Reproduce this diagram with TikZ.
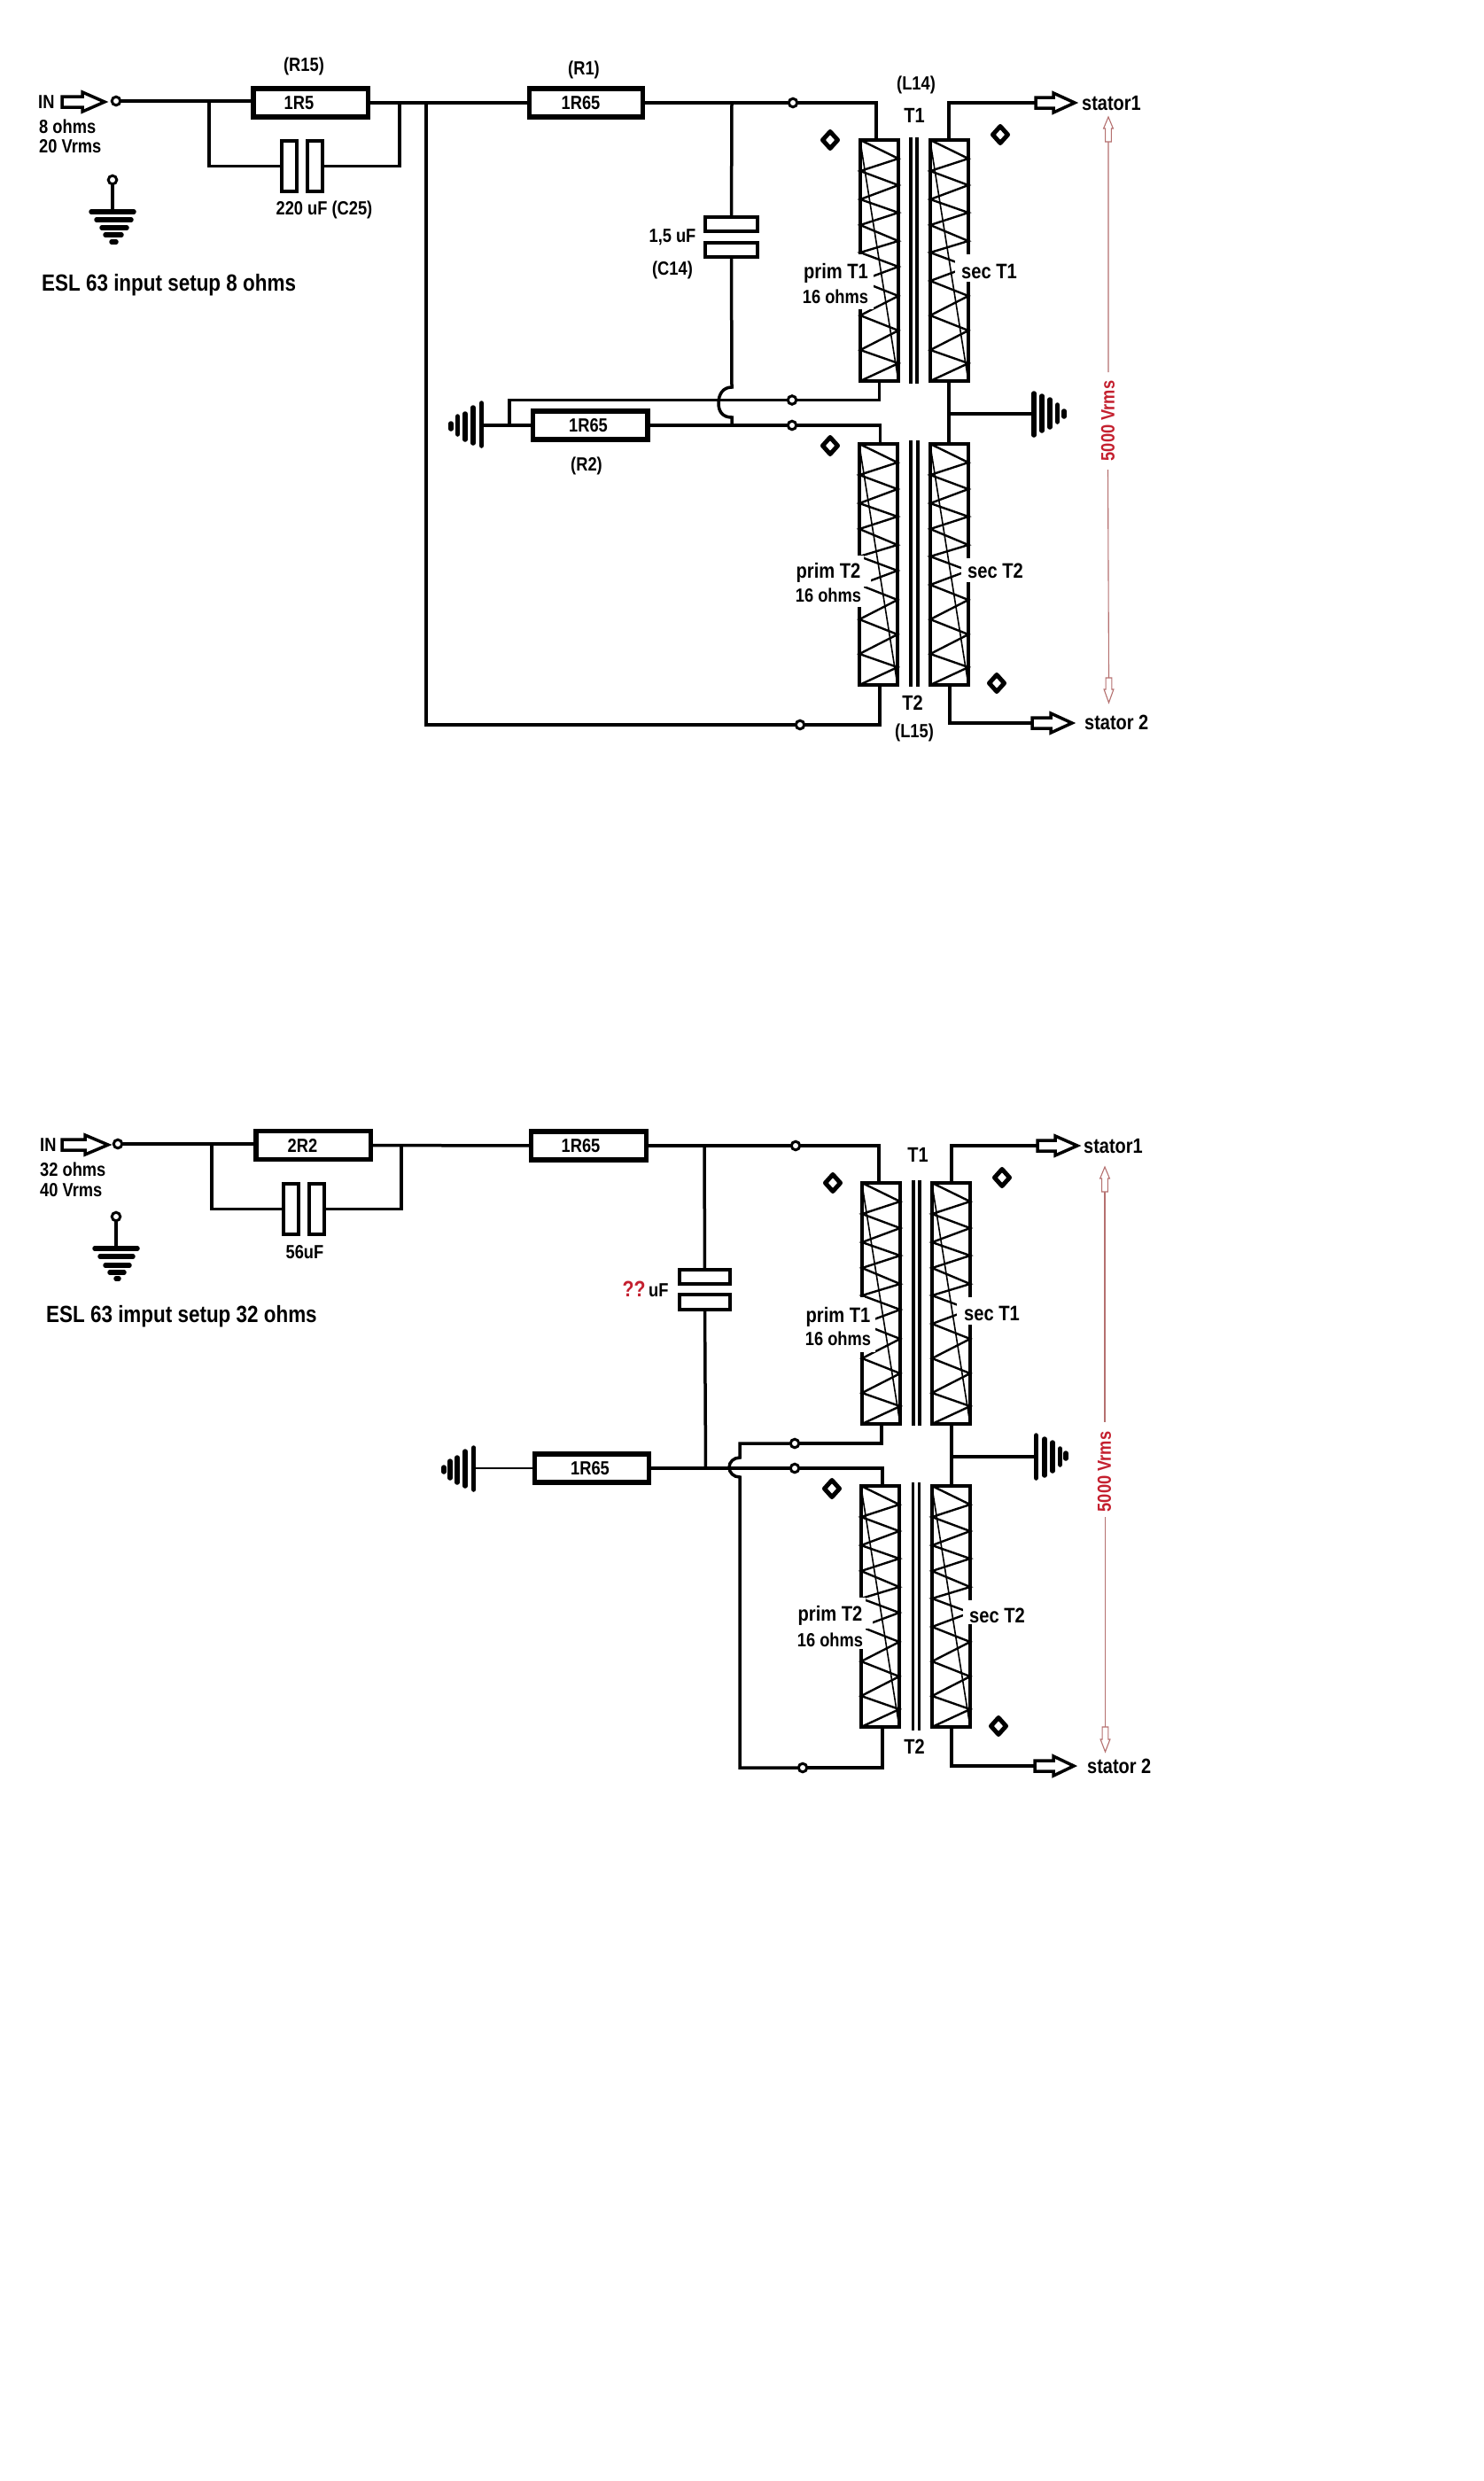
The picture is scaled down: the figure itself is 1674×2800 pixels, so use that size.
\documentclass[tikz,border=0pt]{standalone}
\usepackage{fontspec}
\setmainfont{Liberation Sans}[FakeStretch=0.85]
\definecolor{redline}{HTML}{B5706F}
\definecolor{redtext}{HTML}{C4202F}
\newcommand{\lblf}{\bfseries\fontsize{21.5}{24}\selectfont}
\newcommand{\windf}{\bfseries\fontsize{23.7}{26}\selectfont}
\newcommand{\bigf}{\bfseries\fontsize{23.5}{26}\selectfont}
\newcommand{\ttlf}{\bfseries\fontsize{26.4}{29}\selectfont}
\tikzset{
  wire/.style={line width=3.5pt,line cap=round,line join=miter},
  thinwire/.style={line width=2.6pt,line cap=round},
  term/.style={circle,draw,line width=3pt,inner sep=0pt,minimum size=9.5pt,fill=white},
  resbox/.style={rectangle,draw,line width=5.5pt,inner sep=0pt,minimum height=32pt,fill=white,font=\lblf},
  platebox/.style={rectangle,draw,line width=4pt,inner sep=0pt,fill=white},
  lbl/.style={font=\lblf,inner sep=0pt},
  windlbl/.style={font=\windf,inner sep=0pt},
  biglbl/.style={font=\bigf,inner sep=0pt},
  ttl/.style={font=\ttlf,inner sep=0pt},
  redlbl/.style={font=\lblf,inner sep=0pt,text=redtext},
  gbar/.style={line width=5.5pt,line cap=round},
  zig/.style={line width=2.4pt,line join=miter},
  frame/.style={line width=4pt},
  core/.style={line width=3.2pt},
  diag/.style={line width=1.6pt},
  sensedot/.style={line width=5pt,line join=round,fill=white},
  mask/.style={fill=white,draw=none},
  outarrow/.style={line width=3.5pt,fill=white,line join=miter},
  redarrow/.style={draw=redline,line width=1.1pt,fill=white}
}
% winding: zigzag, thin diagonal, frame; origin = top left corner of the frame
\newcommand{\winding}[2]{%
  \begin{scope}[shift={(#1,#2)}]
    \draw[zig] (0,0)--(43,21)--(0,35)--(43,51)--(0,67)--(43,82)--(0,96)--(43,114)--(0,127)--(43,143)--(0,159)--(43,176)--(0,198)--(43,215)--(0,237)--(43,252)--(0,272);
    \draw[diag] (0,2)--(43,272);
    \draw[frame] (0,0) rectangle (43,272);
  \end{scope}}
\newcommand{\maskptone}[2]{\fill[mask] (#1-66,#2+141) rectangle (#1+15,#2+191);\fill[mask] (#1-6,#2+129) rectangle (#1+3,#2+189);}
\newcommand{\maskstone}[2]{\fill[mask] (#1+28,#2+129) rectangle (#1+100,#2+160);}
\newcommand{\maskpttwo}[2]{\fill[mask] (#1-6,#2+126) rectangle (#1+5,#2+184);\fill[mask] (#1-75,#2+133) rectangle (#1+13,#2+161);\fill[mask] (#1-75,#2+161) rectangle (#1+5,#2+184);}
\newcommand{\masksttwo}[2]{\fill[mask] (#1+35,#2+129) rectangle (#1+100,#2+156);}
% hollow arrow: tail x, y, shoulder x, tip x
\newcommand{\hollow}[4]{\draw[outarrow] (#1,#2-6)--(#3,#2-6)--(#3,#2-11)--(#4,#2)--(#3,#2+11)--(#3,#2+6)--(#1,#2+6)--cycle;}
\newcommand{\sensemark}[2]{\draw[sensedot] (#1-8.5,#2)--(#1,#2-9.5)--(#1+8.5,#2)--(#1,#2+9.5)--cycle;}
% red arrow: x, tip y, shoulder y, tail y
\newcommand{\redhead}[4]{\draw[redarrow] (#1,#2)--(#1+5.4,#3)--(#1+3.4,#3)--(#1+3.4,#4)--(#1-3.4,#4)--(#1-3.4,#3)--(#1-5.4,#3)--cycle;}
\begin{document}
\begin{tikzpicture}[x=1pt,y=-1pt]
\useasboundingbox (0,0) rectangle (1674,2800);
\fill[white] (0,0) rectangle (1674,2800);

%% ================= upper diagram =================
\winding{971}{158}\winding{1050}{158}\winding{970}{501}\winding{1050}{501}
\maskptone{971}{158}\maskstone{1050}{158}\maskpttwo{970}{501}\masksttwo{1050}{501}
\draw[core] (1028,155)--(1028,433) (1035,155)--(1035,433);
\draw[core] (1028,497)--(1028,775) (1036,497)--(1036,775);

\node[term] (inA) at (131,114) {};
\node[term] (gtA) at (127,203) {};
\node[resbox,minimum width=129.5pt] (R15) at (350.5,116) {1R5\hspace*{26pt}};
\node[resbox,minimum width=128pt] (R1) at (661.5,116) {1R65\hspace*{12pt}};
\node[resbox,minimum width=129.5pt] (R2) at (666,480) {1R65\hspace*{4pt}};
\node[platebox,minimum width=17pt,minimum height=57pt] (C25a) at (326.5,187.5) {};
\node[platebox,minimum width=17pt,minimum height=57pt] (C25b) at (355.5,187.5) {};
\node[platebox,minimum width=59pt,minimum height=16pt] (C14a) at (825.5,253) {};
\node[platebox,minimum width=59pt,minimum height=16pt] (C14b) at (825.5,282) {};
\node[term] (tA1) at (895,116) {};
\node[term] (tA2) at (894,451.5) {};
\node[term] (tA3) at (894,480) {};
\node[term] (tA4) at (903,818) {};

\coordinate (jA1) at (236,114);
\coordinate (jA2) at (451,116);
\coordinate (jA3) at (481,116);
\coordinate (jA4) at (826,116);
\coordinate (jA5) at (575,480);
\coordinate (pA1t) at (989,158);
\coordinate (pA1b) at (992.5,430);
\coordinate (pA2t) at (993.5,501);
\coordinate (pA2b) at (993,773);
\coordinate (sA1t) at (1071,158);
\coordinate (sA1b) at (1071,430);
\coordinate (sA2t) at (1071,501);
\coordinate (sA2b) at (1072,773);
\coordinate (gA1) at (1071,467);
\coordinate (gA2) at (1167,467);
\coordinate (gA3) at (544,480);
\coordinate (aA1) at (1169,116);
\coordinate (aA2) at (1165,816);

\draw[wire] (inA.east) -- (inA.east -| R15.west);
\draw[wire] (jA1) |- (C25a.west);
\draw[wire] (C25b.east) -| (jA2);
\draw[wire] (R15) -- (R1);
\draw[wire] (jA3) |- (tA4);
\draw[wire] (tA4) -| (pA2b);
\draw[wire] (R1) -- (tA1);
\draw[wire] (tA1) -| (pA1t);
\draw[wire] (jA4) -- (C14a);
\draw[wire] (C14b.south) -- (826,437) .. controls (816,437) and (811,445) .. (811,455) .. controls (811,465) and (816,471) .. (826,471) -- (826,480);
\draw[wire] (gA3) -- (R2);
\draw[wire] (R2) -- (tA3);
\draw[wire] (tA3) -| (pA2t);
\draw[wire] (jA5) |- (tA2);
\draw[wire] (tA2) -| (pA1b);
\draw[wire] (sA1t) |- (aA1);
\draw[wire] (sA1b) -- (sA2t);
\draw[wire] (gA1) -- (gA2);
\draw[wire] (sA2b) |- (aA2);

\hollow{70}{115}{93}{118}
\hollow{1169}{116}{1189}{1213}
\hollow{1165}{816}{1186}{1210}
\sensemark{937}{158}\sensemark{1129}{152}\sensemark{937}{503}\sensemark{1125}{771}

% ground symbols
\draw[wire] (gtA) -- (127,239);
\draw[gbar] (103,239)--(151,239) (109,248)--(148,248) (115,257)--(143,257) (119,265)--(137,265) (126,273)--(131,273);
\draw[gbar] (1167,444)--(1167,491) (1176,447)--(1176,486) (1185,451)--(1185,482) (1193.5,457)--(1193.5,476) (1201,464)--(1201,470);
\draw[gbar] (543.5,455)--(543.5,503) (534,460)--(534,500) (525,467)--(525,496) (516.6,470)--(516.6,490) (509,478)--(509,484);

\draw[redarrow,fill=none] (1251,160)--(1251,420) (1250.5,530)--(1251.5,765);
\redhead{1251}{132}{145}{160}
\redhead{1251.5}{793}{778}{765}
\node[redlbl,rotate=90] (vA) at (1250.5,475) {5000 Vrms};

\node[lbl,anchor=west] (lIN) at (43,115) {IN};
\node[lbl,anchor=west] (l8) at (44,143) {8 ohms};
\node[lbl,anchor=west] (l20) at (44,165) {20 Vrms};
\node[lbl] (lR15) at (343,75) {(R15)};
\node[lbl] (lC25) at (366,237) {220 uF (C25)};
\node[ttl,anchor=west] (ltA) at (47,322) {ESL 63 input setup 8 ohms};
\node[lbl] (lR1) at (659,79) {(R1)};
\node[lbl] (lR2) at (662,526) {(R2)};
\node[lbl] (lC14) at (759,268) {1,5 uF};
\node[lbl] (lC14n) at (759,305) {(C14)};
\node[lbl] (lL14) at (1034,96) {(L14)};
\node[biglbl] (lT1) at (1032,130) {T1};
\node[biglbl,anchor=west] (ls1) at (1221,117) {stator1};
\node[windlbl] (lpT1) at (943.5,308) {prim T1};
\node[lbl] (lpT1o) at (943,335) {16 ohms};
\node[windlbl,anchor=west] (lsT1) at (1085,306) {sec T1};
\node[windlbl] (lpT2) at (935,646) {prim T2};
\node[lbl] (lpT2o) at (935,672) {16 ohms};
\node[windlbl,anchor=west] (lsT2) at (1092,644) {sec T2};
\node[biglbl] (lT2) at (1030,793) {T2};
\node[lbl] (lL15) at (1032,827) {(L15)};
\node[biglbl,anchor=west] (ls2) at (1224,815) {stator 2};

%% ================= lower diagram =================
\winding{973}{1335}\winding{1052}{1335}\winding{972}{1677}\winding{1052}{1677}
\maskptone{973}{1335}\maskstone{1052}{1335}\maskpttwo{972}{1677}\masksttwo{1052}{1677}
\draw[core] (1031,1332)--(1031,1609) (1038,1332)--(1038,1609);
\draw[core] (1030.6,1673)--(1030.6,1953) (1037.6,1673)--(1037.6,1953);

\node[term] (inB) at (133,1291) {};
\node[term] (gtB) at (131,1373) {};
\node[resbox,minimum width=129.5pt] (R22) at (353.5,1292.5) {2R2\hspace*{24pt}};
\node[resbox,minimum width=130pt] (R1B) at (664.5,1293) {1R65\hspace*{18pt}};
\node[resbox,minimum width=129pt] (R2B) at (668,1657) {1R65\hspace*{4pt}};
\node[platebox,minimum width=17pt,minimum height=57pt] (C56a) at (328.5,1364.5) {};
\node[platebox,minimum width=17pt,minimum height=57pt] (C56b) at (357.5,1364.5) {};
\node[platebox,minimum width=57pt,minimum height=16pt] (CXa) at (795.5,1441) {};
\node[platebox,minimum width=57pt,minimum height=17pt] (CXb) at (795.5,1469.5) {};
\node[term] (tB1) at (898,1293) {};
\node[term] (tB2) at (897,1629) {};
\node[term] (tB3) at (897,1657) {};
\node[term] (tB4) at (906,1995) {};

\coordinate (jB1) at (239,1291.5);
\coordinate (jB2) at (453,1293);
\coordinate (jB3) at (795,1293);
\coordinate (jB4) at (796.5,1657);
\coordinate (pB1t) at (992,1335);
\coordinate (pB1b) at (995,1607);
\coordinate (pB2t) at (996,1677);
\coordinate (pB2b) at (996,1949);
\coordinate (sB1t) at (1074,1335);
\coordinate (sB1b) at (1074,1607);
\coordinate (sB2t) at (1074,1677);
\coordinate (sB2b) at (1074,1949);
\coordinate (gB1) at (1074,1644);
\coordinate (gB2) at (1169,1644);
\coordinate (gB3) at (535,1657);
\coordinate (aB1) at (1171,1293);
\coordinate (aB2) at (1168,1993);
\coordinate (kB1) at (835,1629);
\coordinate (kB2) at (835,1995);

\draw[wire] (inB.east) -- (inB.east -| R22.west);
\draw[wire] (jB1) |- (C56a.west);
\draw[wire] (C56b.east) -| (jB2);
\draw[wire] (R22) -- (R1B);
\draw[wire] (R1B) -- (tB1);
\draw[wire] (tB1) -| (pB1t);
\draw[wire] (jB3) -- (CXa);
\draw[wire] (CXb) -- (jB4);
\draw[thinwire] (gB3) -- (R2B);
\draw[wire] (R2B) -- (tB3);
\draw[wire] (tB3) -| (pB2t);
\draw[wire] (pB1b) |- (tB2);
\draw[wire] (tB2) -- (kB1) -- (835,1645) .. controls (828,1645) and (823,1650) .. (823,1656) .. controls (823,1662) and (828,1667) .. (835,1667) -- (kB2) -- (tB4);
\draw[wire] (tB4) -| (pB2b);
\draw[wire] (sB1t) |- (aB1);
\draw[wire] (sB1b) -- (sB2t);
\draw[wire] (gB1) -- (gB2);
\draw[wire] (sB2b) |- (aB2);

\hollow{70}{1292}{96}{122}
\hollow{1171}{1293}{1191}{1216}
\hollow{1168}{1993}{1189}{1212}
\sensemark{940}{1335}\sensemark{1131}{1329}\sensemark{939}{1680}\sensemark{1127}{1948}

\draw[wire] (gtB) -- (131,1408);
\draw[gbar] (107,1409)--(155,1409) (113,1418)--(150,1418) (119,1428)--(146,1428) (124,1436)--(140,1436) (131,1443)--(134,1443);
\draw[gbar] (1169.5,1620)--(1169.5,1668) (1179,1624)--(1179,1665) (1188,1628)--(1188,1660) (1196.5,1635)--(1196.5,1653) (1203,1640)--(1203,1646);
\draw[gbar] (534.7,1634)--(534.7,1681) (525,1638)--(525,1677) (516,1645)--(516,1673) (508,1649)--(508,1668) (501,1656)--(501,1661);

\draw[redarrow,fill=none] (1247,1345)--(1247,1605) (1247.5,1712)--(1247.5,1949);
\redhead{1247}{1317}{1330}{1345}
\redhead{1247.5}{1977}{1963}{1949}
\node[redlbl,rotate=90] (vB) at (1246.5,1661) {5000 Vrms};

\node[lbl,anchor=west] (mIN) at (45,1292) {IN};
\node[lbl,anchor=west] (m32) at (45,1320) {32 ohms};
\node[lbl,anchor=west] (m40) at (45,1343) {40 Vrms};
\node[lbl] (m56) at (344,1413) {56uF};
\node[ttl,anchor=west] (ltB) at (52,1486) {ESL 63 imput setup 32 ohms};
\node[lbl] (mQ) at (728.5,1455) {\textcolor{redtext}{\fontsize{25}{27}\selectfont ??}\,uF};
\node[biglbl] (mT1) at (1036,1303) {T1};
\node[biglbl,anchor=west] (ms1) at (1223,1294) {stator1};
\node[windlbl] (mpT1) at (946,1486) {prim T1};
\node[lbl] (mpT1o) at (946,1511) {16 ohms};
\node[windlbl,anchor=west] (msT1) at (1088,1482) {sec T1};
\node[windlbl] (mpT2) at (937,1823) {prim T2};
\node[lbl] (mpT2o) at (937,1851) {16 ohms};
\node[windlbl,anchor=west] (msT2) at (1094,1823) {sec T2};
\node[biglbl] (mT2) at (1032,1971) {T2};
\node[biglbl,anchor=west] (ms2) at (1227,1993) {stator 2};
\end{tikzpicture}
\end{document}
